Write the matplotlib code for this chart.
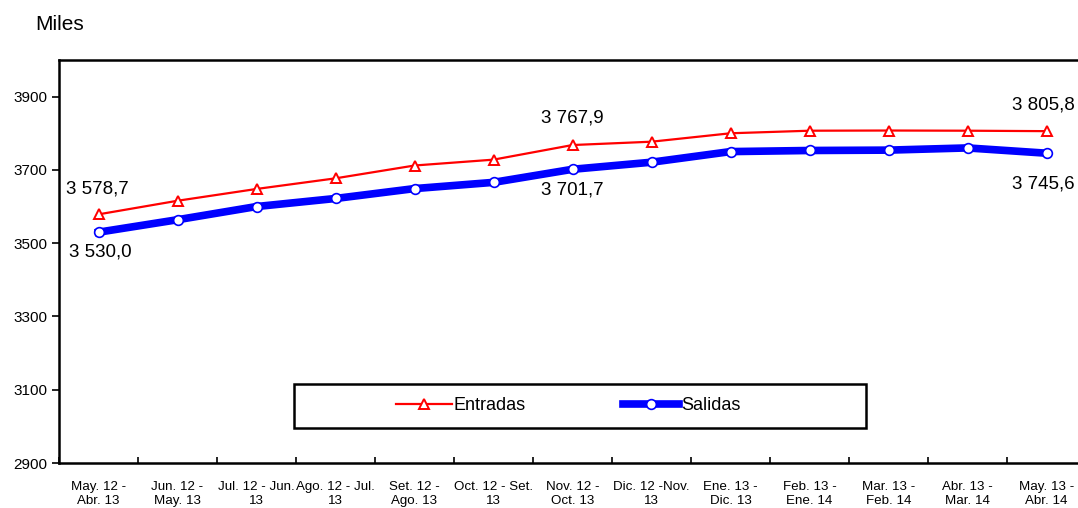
import matplotlib.pyplot as plt
from matplotlib.patches import Rectangle
import numpy as np

plt.rcParams['font.family'] = ['Liberation Sans', 'DejaVu Sans']

# categories (rolling 12-month periods)
periodos = ['May. 12 -\nAbr. 13', 'Jun. 12 -\nMay. 13', 'Jul. 12 - Jun.\n13',
            'Ago. 12 - Jul.\n13', 'Set. 12 -\nAgo. 13', 'Oct. 12 - Set.\n13',
            'Nov. 12 -\nOct. 13', 'Dic. 12 -Nov.\n13', 'Ene. 13 -\nDic. 13',
            'Feb. 13 -\nEne. 14', 'Mar. 13 -\nFeb. 14', 'Abr. 13 -\nMar. 14',
            'May. 13 -\nAbr. 14']
entradas = [3578.7, 3615.8, 3648.0, 3677.0, 3712.0, 3728.0, 3767.9,
            3777.0, 3800.0, 3807.0, 3807.5, 3807.0, 3805.8]
salidas = [3530.0, 3564.0, 3600.0, 3622.0, 3649.0, 3666.0, 3701.7,
           3721.0, 3750.0, 3753.0, 3754.0, 3760.0, 3745.6]

x = np.arange(len(periodos))

fig = plt.figure(figsize=(10.78, 5.08), dpi=100)
ax = fig.add_axes([59 / 1078, 1 - 463 / 508, 1027 / 1078, 403 / 508])

ax.plot(x, entradas, color='red', lw=1.6, marker='^', ms=7, mfc='white',
        mec='red', mew=1.4, label='Entradas', zorder=3)
ax.plot(x, salidas, color='blue', lw=5.5, marker='o', ms=7, mfc='white',
        mec='blue', mew=1.2, label='Salidas', zorder=3)

def fmt(v):
    s = f'{v:,.1f}'
    return s.replace(',', ' ').replace('.', ',')

# data labels: (index, x offset, y offset) in points
lab_ent = [(0, -1, 12), (6, 0, 13), (12, -2, 13)]
lab_sal = [(0, 1, -8), (6, 0, -9), (12, -2, -16)]
for i, dx, dy in lab_ent:
    ax.annotate(fmt(entradas[i]), (x[i], entradas[i]), xytext=(dx, dy),
                textcoords='offset points', ha='center', va='bottom', fontsize=13.5)
for i, dx, dy in lab_sal:
    ax.annotate(fmt(salidas[i]), (x[i], salidas[i]), xytext=(dx, dy),
                textcoords='offset points', ha='center', va='top', fontsize=13.5)

ax.set_xlim(-0.5, 12.5)
ax.set_ylim(2900, 4000)
ax.set_yticks(np.arange(2900, 4000, 200))
ax.tick_params(axis='y', labelsize=11, direction='out', length=5, width=1.2)

ax.set_xticks(np.arange(-0.5, 13, 1))
ax.set_xticklabels([])
ax.tick_params(axis='x', which='major', direction='in', length=4, width=1.2)
ax.set_xticks(x, minor=True)
ax.set_xticklabels(periodos, minor=True, fontsize=9.6, linespacing=1.25)
ax.tick_params(axis='x', which='minor', length=0, pad=13)

for s in ax.spines.values():
    s.set_linewidth(1.8)

fig.text(35 / 1078, 1 - 25 / 508, 'Miles', fontsize=15, va='center')

leg = ax.legend(loc='center', bbox_to_anchor=(568 / 1078, 1 - 406 / 508),
                bbox_transform=fig.transFigure, ncol=2, fontsize=13,
                frameon=False, handlelength=3.1, handletextpad=0.1,
                columnspacing=5.4, borderpad=0, borderaxespad=0)
fig.patches.append(Rectangle((294 / 1078, 1 - 428 / 508), 572 / 1078, 44 / 508,
                             transform=fig.transFigure, fill=False,
                             edgecolor='black', linewidth=1.8))

fig.savefig('out.png', dpi=100)
